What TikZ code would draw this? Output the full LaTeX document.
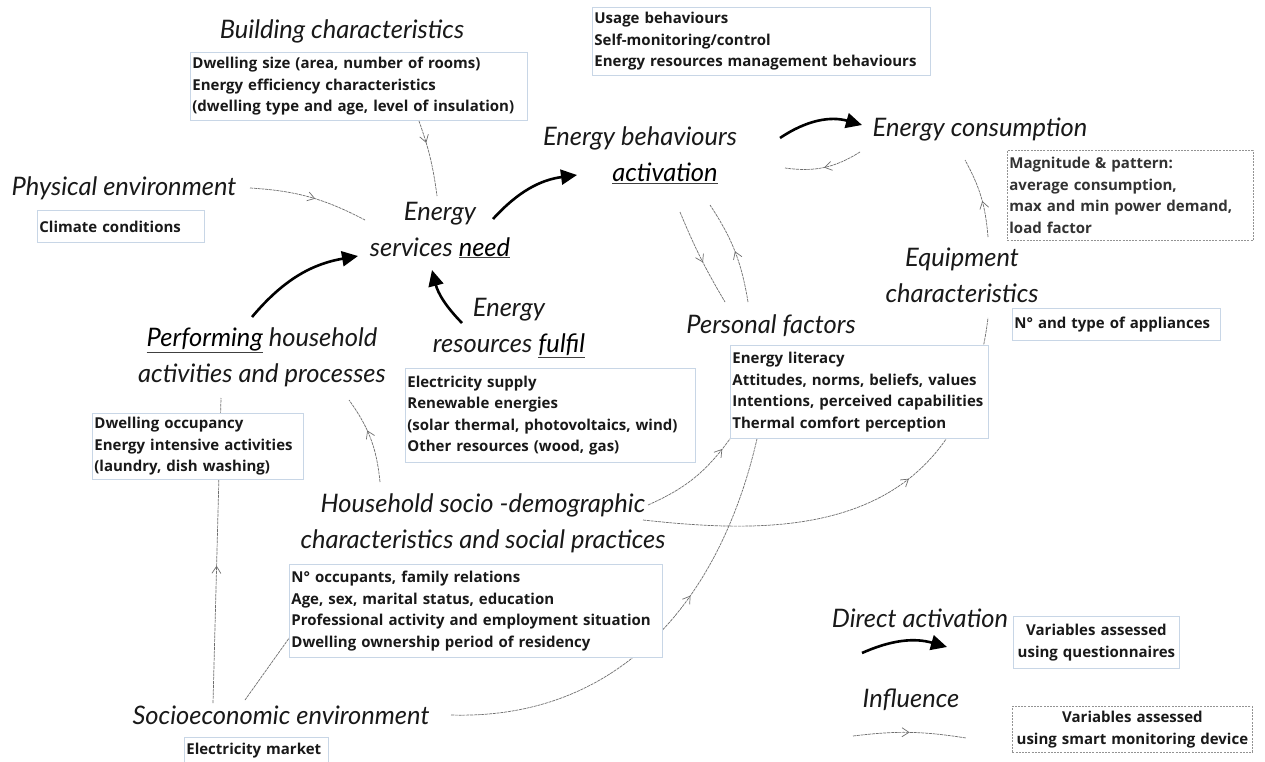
\documentclass[tikz,border=0pt]{standalone}
\usepackage{fontspec}
\setmainfont{Open Sans}
\newfontfamily\handfont{Lato}
\usetikzlibrary{arrows.meta,calc,decorations.markings,backgrounds}

\definecolor{boxline}{RGB}{200,214,230}
\definecolor{linkgray}{RGB}{110,110,110}
\newcommand\boxfont{\bfseries\fontsize{15}{21.5}\selectfont\hyphenpenalty=10000\exhyphenpenalty=10000}
\newcommand\uln[1]{{\color{darkgray}\underline{\textcolor{black}{#1}}}}

\tikzset{
  infobox/.style={draw=boxline, line width=0.8pt, fill=white, inner xsep=2pt,
    inner ysep=2pt, align=left, anchor=north west, font=\boxfont, text=black!90},
  smartbox/.style={infobox, draw=gray!85, dash pattern=on 2pt off 1.2pt},
  hand/.style={font=\handfont\itshape\fontsize{25.5}{36}\selectfont, align=center,
    inner sep=2pt, text=black!90},
  drive/.style={line width=2.6pt, -{Triangle[length=16pt,width=15pt]}},
  influ/.style={draw=linkgray, line width=0.7pt, dash pattern=on 3pt off 0.8pt,
    postaction={decorate}, decoration={markings,
      mark=at position #1 with {\arrow{Straight Barb[length=7pt,width=9pt]}}}},
}

\begin{document}
\begin{tikzpicture}[x=1pt,y=-1pt]
\useasboundingbox (0,0) rectangle (1265,762);

% ---- labels of the concepts ----
\node[hand] (bldl) at (342,31) {Building characteristics};
\node[hand] (phyl) at (124,188) {Physical environment};
\node[hand] (need) at (440,230) {Energy\\services \uln{need}};
\node[hand] (behav) at (640,155) {Energy behaviours\\\hspace*{25pt}\uln{activation}\hspace*{-25pt}};
\node[hand] (cons) at (980,130) {Energy consumption};
\node[hand] (equip) at (962,275) {Equipment\\characteristics};
\node[hand] (pers) at (771,326) {Personal factors};
\node[hand] (res) at (509,328) {Energy\\resources \uln{fulfil}};
\node[hand] (perf) at (262,357) {\uln{Performing} household\\activities and processes};
\node[hand] (hsoc) at (483,523) {Household socio -demographic\\characteristics and social practices};
\node[hand] (soce) at (281,715) {Socioeconomic environment};
\node[hand] (dirl) at (920,618) {Direct activation};
\node[hand] (infl) at (911,700) {Influence};

% ---- variable boxes ----
\node[infobox, text width=333pt, minimum height=68pt] (bbox) at (190,52)
  {Dwelling size (area, number of rooms)\\Energy efficiency characteristics\\(dwelling type and age, level of insulation)};
\node[infobox, text width=334pt, minimum height=68pt] (ubox) at (592,7)
  {Usage behaviours\\Self-monitoring/control\\Energy resources management behaviours};
\node[infobox, text width=163pt, minimum height=32pt] (cbox) at (37,210)
  {Climate conditions};
\node[smartbox, text width=242pt, minimum height=90pt, text=black!80] (mbox) at (1007,150)
  {Magnitude \& pattern:\\average consumption,\\max and min power demand,\\load factor};
\node[infobox, text width=204pt, minimum height=32pt] (abox) at (1012,308)
  {N° and type of appliances};
\node[infobox, text width=254pt, minimum height=93pt] (pbox) at (730,345)
  {Energy literacy\\Attitudes, norms, beliefs, values\\Intentions, perceived capabilities\\Thermal comfort perception};
\node[infobox, text width=286pt, minimum height=94pt] (rbox) at (405,368)
  {Electricity supply\\Renewable energies\\(solar thermal, photovoltaics, wind)\\Other resources (wood, gas)};
\node[infobox, text width=207pt, minimum height=66pt] (obox) at (92,413)
  {Dwelling occupancy\\Energy intensive activities\\(laundry, dish washing)};
\node[infobox, text width=369pt, minimum height=93pt] (sbox) at (289,564)
  {N° occupants, family relations\\Age, sex, marital status, education\\Professional activity and employment situation\\Dwelling ownership period of residency};
\node[infobox, text width=140pt, minimum height=26pt] (ebox) at (184,737)
  {Electricity market};
\node[infobox, align=center, text width=162pt, minimum height=52pt] (qbox) at (1013,616)
  {Variables assessed\\using questionnaires};
\node[smartbox, align=center, text width=236pt, minimum height=46pt] (smbox) at (1012,706)
  {Variables assessed\\using smart monitoring device};

% ---- legend samples ----
\coordinate (da1) at (862,653);
\coordinate (da2) at (947,647);
\coordinate (ia1) at (853,736);
\coordinate (ia2) at (966,738);

% ---- influences, drawn behind the boxes ----
\begin{scope}[on background layer]
\fill[white] (0,0) rectangle (1265,762);
\draw[influ=0.3] ($(bbox.south)+(60,0)$) to[bend left=6] ($(need)+(-3,-34)$);
\draw[influ=0.55] ($(phyl)+(126,0)$) to[bend left=12] ($(need)+(-75,-10)$);
\draw[influ=0.5] ($(cons)+(-120,22)$) to[bend left=20] ($(behav)+(145,13)$);
\draw[influ=0.55] ($(behav)+(40,57)$) to[bend right=4] ($(pers)+(-46,-24)$);
\draw[influ=0.5] ($(pers)+(-23,-24)$) to[bend right=12] ($(behav)+(70,50)$);
\draw[influ=0.45] ($(equip)+(26,-38)$) to[bend right=12] ($(cons)+(-15,30)$);
\draw[influ=0.6] ($(hsoc)+(-103,-41)$) to[bend right=15] ($(perf)+(87,43)$);
\draw[influ=0.45] ($(soce)+(-68,-12)$) -- ($(perf)+(-41,41)$);
\draw[draw=linkgray, line width=0.7pt, dash pattern=on 3pt off 0.8pt]
  ($(soce)+(-36,-15)$) -- ($(sbox.south west)+(6,-28)$);
\draw[influ=0.88] ($(hsoc)+(165,-18)$) to[bend right=15] (pbox.south west);
\draw[influ=0.6] ($(hsoc)+(160,-3)$) .. controls (780,535) and (960,540) .. ($(equip)+(26,43)$);
\draw[influ=0.62] ($(soce)+(170,0)$) .. controls (620,720) and (720,600) .. ($(pbox.south west)+(27,0)$);
\draw[influ=0.5] (ia1) to[bend left=8] (ia2);
\end{scope}

% ---- direct activations ----
\draw[drive] ($(need)+(53,-11)$) to[bend left=20] ($(behav)+(-63,20)$);
\draw[drive] ($(behav)+(140,-17)$) to[bend left=25] ($(cons)+(-118,-5)$);
\draw[drive] ($(perf)+(-10,-40)$) to[bend left=20] ($(need)+(-82,26)$);
\draw[drive] ($(res)+(-47,-5)$) to[bend left=15] ($(need)+(-8,40)$);
\draw[drive] (da1) to[bend left=20] (da2);
\end{tikzpicture}
\end{document}
